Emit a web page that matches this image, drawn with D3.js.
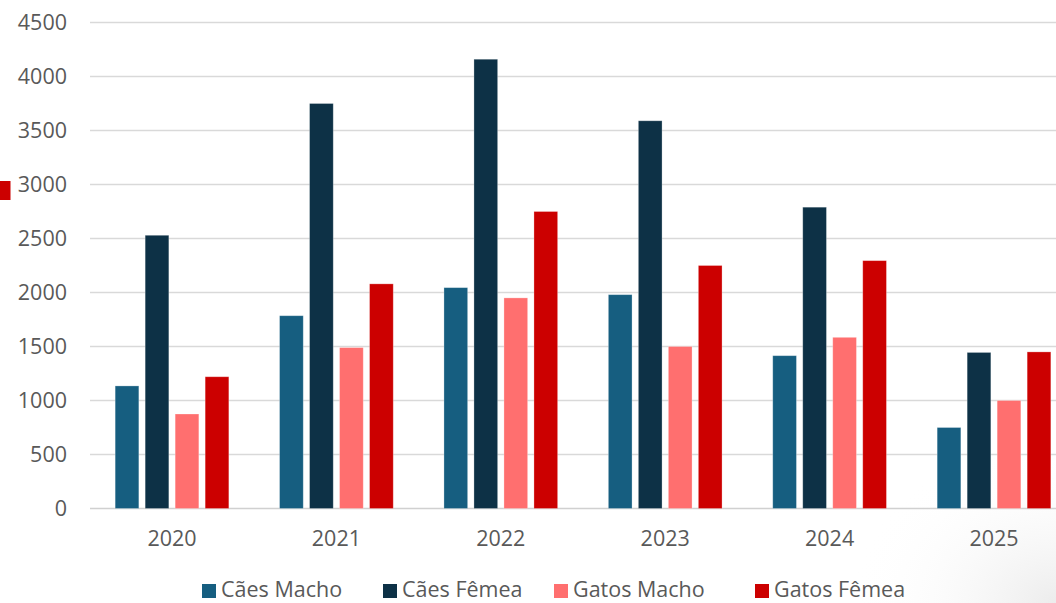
<!DOCTYPE html>
<html><head><meta charset="utf-8">
<script src="https://cdn.jsdelivr.net/npm/d3@7"></script>
<style>body{margin:0;background:#fff;overflow:hidden}svg{display:block;font-family:"Open Sans","Noto Sans",sans-serif}</style>
</head><body>
<script>
const years = ["2020","2021","2022","2023","2024","2025"];
const seriesNames = ["Cães Macho","Cães Fêmea","Gatos Macho","Gatos Fêmea"];
const caesMacho  = [1135,1785,2045,1980,1415,750];
const caesFemea  = [2530,3750,4160,3590,2790,1445];
const gatosMacho = [875,1490,1950,1500,1585,1000];
const gatosFemea = [1220,2080,2750,2250,2295,1450];
const yTicks = [0,500,1000,1500,2000,2500,3000,3500,4000,4500];
const colors = ["#165E80","#0D3146","#FF6F6F","#CC0000"];

const W=1056,H=603;
const svg=d3.select("body").append("svg").attr("width",W).attr("height",H);
const defs=svg.append("defs");
const rg=defs.append("radialGradient").attr("id","shade").attr("cx","1").attr("cy","1").attr("r","1");
rg.append("stop").attr("offset","0").attr("stop-color","#ececec");
rg.append("stop").attr("offset","1").attr("stop-color","#ffffff").attr("stop-opacity",0);
svg.append("rect").attr("x",850).attr("y",440).attr("width",206).attr("height",163).attr("fill","url(#shade)");

const data = years.map((y,i)=>({year:y, vals:[caesMacho[i],caesFemea[i],gatosMacho[i],gatosFemea[i]]}));
const x0=d3.scaleBand().domain(years).range([89.8,1076.2]).paddingInner(0).paddingOuter(0);
const x1=d3.scaleBand().domain(d3.range(4)).range([x0.bandwidth()/2-60,x0.bandwidth()/2+60]).paddingInner(0.21).paddingOuter(0.105);
const y=d3.scaleLinear().domain([0,4500]).range([508.5,22.5]);

const grid=svg.append("g");
grid.selectAll("line").data(yTicks).join("line")
 .attr("x1",90).attr("x2",W).attr("y1",d=>y(d)).attr("y2",d=>y(d))
 .attr("stroke",d=>d===0?"#d0d0d0":"#d9d9d9").attr("stroke-width",1.5);

const yAxis=d3.axisLeft(y).tickValues(yTicks).tickFormat(d3.format("d")).tickSize(0).tickPadding(0);
const ga=svg.append("g").attr("transform","translate(67,0)").call(yAxis);
ga.select(".domain").remove();
ga.selectAll("text").attr("font-size",21.5).attr("fill","#595959").attr("font-family","'Open Sans',sans-serif");

const xAxis=d3.axisBottom(x0).tickSize(0).tickPadding(0);
const gx=svg.append("g").attr("transform","translate(0,531)").call(xAxis);
gx.select(".domain").remove();
gx.selectAll("text").attr("font-size",21.5).attr("fill","#595959").attr("font-family","'Open Sans',sans-serif");

const groups=svg.append("g").selectAll("g").data(data).join("g").attr("transform",d=>`translate(${x0(d.year)},0)`);
groups.selectAll("rect").data(d=>d.vals.map((v,k)=>({k,v}))).join("rect")
 .attr("x",d=>x1(d.k)).attr("width",x1.bandwidth())
 .attr("y",d=>y(d.v)).attr("height",d=>y(0)-y(d.v))
 .attr("fill",d=>colors[d.k]).attr("stroke","#ffffff").attr("stroke-opacity",0.35).attr("stroke-width",0.8);

// stray legend marker at left edge
svg.append("rect").attr("x",-4).attr("y",181).attr("width",14.5).attr("height",19).attr("fill","#CC0000");

const legX=[202,383,554,755];
const lg=svg.append("g").selectAll("g").data(seriesNames).join("g").attr("transform",(d,i)=>`translate(${legX[i]},0)`);
lg.append("rect").attr("x",0).attr("y",584).attr("width",14).attr("height",14).attr("fill",(d,i)=>colors[i]);
lg.append("text").attr("x",19).attr("y",596.5).attr("font-size",21.5).attr("fill","#595959").text(d=>d);
</script>
</body></html>
